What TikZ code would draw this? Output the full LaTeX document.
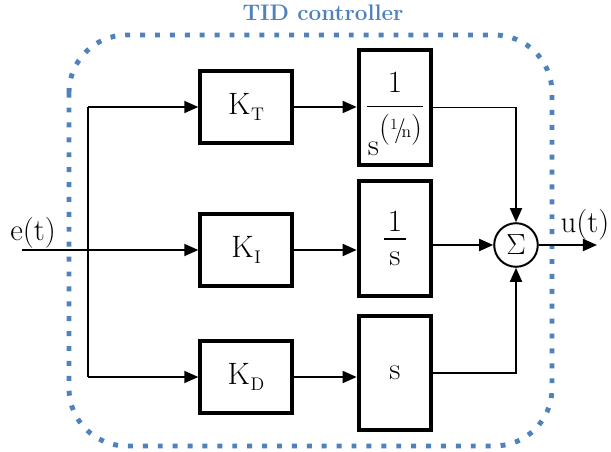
\documentclass[tikz,border=0pt]{standalone}
\usepackage{amsmath}
\usepackage{fontspec}
\usepackage{xcolor}
\usepackage{tikz}
\usetikzlibrary{arrows.meta}
\definecolor{tidblue}{RGB}{79,129,189}
\setlength{\arrayrulewidth}{1pt}
\newcommand{\gain}[1]{K\kern.5pt\raisebox{-.5ex}{\fontsize{13}{13}\selectfont #1}}
\newcommand{\tffrac}[4]{{\renewcommand{\arraystretch}{0}%
\begin{tabular}{@{\hspace{#4}}c@{\hspace{#4}}}#1\\[#3]\hline#2\end{tabular}}}
\newcommand{\tiltexp}{\raisebox{12.5pt}{\fontsize{22}{26}\selectfont(\raisebox{5.5pt}{\fontsize{11}{11}\selectfont 1}\kern-2.5pt{\fontsize{18}{18}\selectfont /}\kern-3pt{\fontsize{12.5}{12.5}\selectfont n})}}

\begin{document}
\begin{tikzpicture}[
x=0.025cm,y=-0.025cm,
font=\fontsize{22}{26}\selectfont,
box/.style={draw,line width=2.8pt,minimum width=65pt,minimum height=51pt,inner sep=0pt},
tf/.style={draw,line width=2.8pt,minimum width=51.7pt,minimum height=81.5pt,inner sep=0pt},
sumc/.style={draw,circle,line width=1.4pt,minimum size=31pt,inner sep=0pt},
arr/.style={-{Triangle[length=10pt,width=8.5pt]},line width=1.4pt},
wire/.style={line width=1.4pt}
]
\useasboundingbox (0,0) rectangle (611,452);
% controller frame
\draw[tidblue,line width=3.5pt,dash pattern=on 3.5pt off 7.1pt,rounded corners=41pt] (69,35) rectangle (552,446);
\node[font=\fontsize{16}{19}\selectfont\bfseries,text=tidblue] (title) at (323,13) {TID controller};
% gains
\node[box] (kt) at (246,107) {\gain{T}};
\node[box] (ki) at (246,250) {\gain{I}};
\node[box] (kd) at (246,377) {\gain{D}};
% operators
\node[tf] (tilt) at (395,107.5) {\tffrac{\rule{0pt}{23.7pt}1}{\rule{0pt}{34pt}s\tiltexp}{9.4pt}{1pt}};
\node[tf] (integ) at (395,238.5) {\tffrac{1}{\rule{0pt}{18.4pt}s}{5pt}{3pt}};
\node[tf] (deriv) at (395,373) {s};
\node[sumc] (sum) at (516,245) {$\Sigma$};
\coordinate (in) at (22,250);
\coordinate (split) at (88,250);
\coordinate (out) at (597,245);
\node (e) at (33,233) {e(t)};
\node (u) at (585,225) {u(t)};
\draw[arr] (in) -- (ki);
\draw[wire] (split |- kt) -- (split |- kd);
\draw[arr] (split |- kt) -- (kt);
\draw[arr] (split |- kd) -- (kd);
\draw[arr] (kt.east) -- (kt.east -| tilt.west);
\draw[arr] (ki.east) -- (ki.east -| integ.west);
\draw[arr] (kd.east) -- (kd.east -| deriv.west);
\draw[arr] (tilt.east) -| (sum.north);
\draw[arr] (integ.east |- sum) -- (sum.west);
\draw[arr] (deriv.east) -| (sum.south);
\draw[arr] (sum) -- (out);
\end{tikzpicture}
\end{document}
